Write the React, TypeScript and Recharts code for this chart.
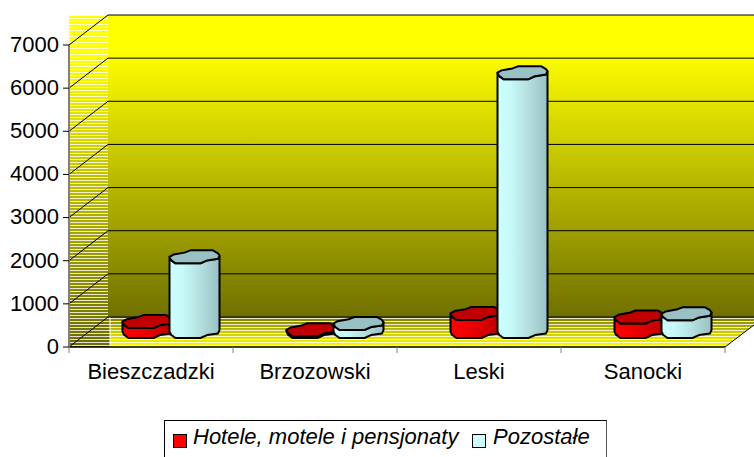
import React from 'react';
import { BarChart, Bar, XAxis, YAxis, Legend, ReferenceArea } from 'recharts';

const categories = ['Bieszczadzki', 'Brzozowski', 'Leski', 'Sanocki'];
const hotele = [230, 40, 420, 335];
const pozostale = [1730, 185, 6000, 410];
const yTicks = [0, 1000, 2000, 3000, 4000, 5000, 6000, 7000];
const seriesNames = ['Hotele, motele i pensjonaty', 'Pozostałe'];
const seriesColors = ['#ff0000', '#ccffff'];

const tableRows = categories.map((c, i) => ({ name: c, hotele: hotele[i], pozostale: pozostale[i] }));

const FONT = '"Liberation Sans", Arial, sans-serif';
const DEPTH_X = 39;
const DEPTH_Y = 30;

const Walls = (props: any) => {
  const { x, y, width, height } = props;
  const bottom = y + height;
  const backX = x + DEPTH_X;
  const backBottom = bottom - DEPTH_Y;
  const right = x + width;
  const floor = `M${backX + 2},${backBottom}H754V${backBottom + 8}L${right},${bottom}H${backX + 2}Z`;
  return (
    <g>
      <defs>
        <linearGradient id="backGrad" x1="0" y1="0" x2="0" y2="1">
          <stop offset="0" stopColor="#ffff00" />
          <stop offset="0.12" stopColor="#ffff00" />
          <stop offset="1" stopColor="#707000" />
        </linearGradient>
        <linearGradient id="sideGrad" x1="0" y1="0" x2="0" y2="1">
          <stop offset="0" stopColor="#ffff00" />
          <stop offset="0.12" stopColor="#ffff00" />
          <stop offset="1" stopColor="#6b6b00" />
        </linearGradient>
        <linearGradient id="floorGrad" x1="0" y1="0" x2="0" y2="1">
          <stop offset="0" stopColor="#7a7a00" />
          <stop offset="0.5" stopColor="#c8c800" />
          <stop offset="1" stopColor="#ffff00" />
        </linearGradient>
        <pattern id="hatch" patternUnits="userSpaceOnUse" width="6" height="3">
          <rect x="0" y="0" width="6" height="1" fill="#ffffff" fillOpacity="0.8" />
        </pattern>
      </defs>
      <rect x={x} y={y - DEPTH_Y + 1} width={DEPTH_X + 2} height={height + DEPTH_Y - 1} fill="url(#sideGrad)" />
      <rect x={x} y={y - DEPTH_Y + 1} width={DEPTH_X + 2} height={height + DEPTH_Y - 1} fill="url(#hatch)" />
      <rect x={backX} y={y - DEPTH_Y} width={754 - backX} height={height} fill="url(#backGrad)" />
      <path d={floor} fill="url(#floorGrad)" />
      <path d={floor} fill="url(#hatch)" />
      <line x1={backX + 2} x2={backX + 2} y1={backBottom} y2={bottom} stroke="#ffffff" strokeWidth={1} />
      {yTicks.map((t) => {
        const fy = bottom - (t / 7000) * height;
        const by = fy - DEPTH_Y;
        return (
          <g key={t} stroke="#000000" strokeWidth={1}>
            <line x1={x} y1={fy} x2={backX} y2={by} />
            <line x1={backX} y1={by} x2={754} y2={by} />
          </g>
        );
      })}
      <line x1={right} y1={bottom} x2={754} y2={backBottom + 8} stroke="#000000" />
      <line x1={x} y1={bottom} x2={right} y2={bottom} stroke="#000000" strokeWidth={1.5} />
      {[0, 1, 2, 3, 4].map((i) => (
        <line key={i} x1={x + (i * width) / 4} x2={x + (i * width) / 4} y1={bottom} y2={bottom + 6} stroke="#808080" />
      ))}
    </g>
  );
};

const RIM_FRONT: [number, number][] = [[0, 0], [0.03, 0.5], [0.12, 1], [0.62, 1], [0.75, 0.55], [0.97, 0.3], [1, -0.2]];
const RIM_BACK: [number, number][] = [[0.97, -0.55], [0.87, -1], [0.42, -1], [0.3, -0.65], [0.08, -0.35]];

const makeCylinder = (gradId: string, topFill: string) => (props: any) => {
  const { x, y, width, height } = props;
  const shiftX = 19.5;
  const baseY = y + height - 15.5;
  const topY = baseY - height;
  const half = 6.5;
  const px = (u: number) => x + shiftX + u * width;
  const front = (cy: number) => RIM_FRONT.map(([u, v]) => `${px(u)},${cy + v * half}`);
  const back = RIM_BACK.map(([u, v]) => `${px(u)},${topY + v * half}`);
  const body = [...front(topY), ...front(baseY).reverse()].join(' ');
  const top = [...front(topY), ...back].join(' ');
  return (
    <g stroke="#000000" strokeWidth={2} strokeLinejoin="round">
      <polygon points={body} fill={`url(#${gradId})`} />
      <polygon points={top} fill={topFill} />
    </g>
  );
};

const RedShape = makeCylinder('redBody', '#c00000');
const BlueShape = makeCylinder('blueBody', '#99c0c4');

const LegendBox = (props: any) => {
  const items = props.payload || [];
  return (
    <div
      style={{
        boxSizing: 'border-box',
        width: 443,
        height: 40,
        border: '1px solid #000',
        borderRightColor: '#555',
        background: '#fff',
        fontFamily: FONT,
        fontStyle: 'italic',
        fontSize: 22,
        color: '#000',
        position: 'relative',
      }}
    >
      {items.map((it: any, i: number) => (
        <React.Fragment key={it.value}>
          <span
            style={{
              position: 'absolute',
              left: i === 0 ? 8 : 307,
              top: 13,
              width: 14,
              height: 14,
              boxSizing: 'border-box',
              border: '1.5px solid #000',
              background: it.color,
            }}
          />
          <span style={{ position: 'absolute', left: i === 0 ? 28 : 328, top: 3, whiteSpace: 'nowrap' }}>{it.value}</span>
        </React.Fragment>
      ))}
    </div>
  );
};

export default function App() {
  return (
    <div style={{ position: 'absolute', left: 0, top: 0, width: 754, height: 457, overflow: 'hidden', background: '#fff' }}>
      <BarChart
        width={754}
        height={457}
        data={tableRows}
        margin={{ top: 45, right: 29, bottom: 0, left: 0 }}
        barSize={50}
        barGap={-3}
        barCategoryGap={0}
      >
        <defs>
          <linearGradient id="redBody" x1="0" y1="0" x2="1" y2="0">
            <stop offset="0" stopColor="#ff0000" />
            <stop offset="0.3" stopColor="#f20000" />
            <stop offset="0.6" stopColor="#dd0000" />
            <stop offset="1" stopColor="#bb0000" />
          </linearGradient>
          <linearGradient id="blueBody" x1="0" y1="0" x2="1" y2="0">
            <stop offset="0" stopColor="#ccffff" />
            <stop offset="0.25" stopColor="#c8fafa" />
            <stop offset="0.6" stopColor="#b5e0e0" />
            <stop offset="1" stopColor="#99c0c4" />
          </linearGradient>
        </defs>
        <XAxis
          dataKey="name"
          height={110}
          interval={0}
          tickLine={false}
          axisLine={false}
          tickSize={6}
          tickMargin={10}
          tick={{ fontFamily: FONT, fontSize: 22, fill: '#000' }}
        />
        <YAxis
          width={69}
          domain={[0, 7000]}
          ticks={yTicks}
          interval={0}
          tickSize={6}
          tickMargin={4}
          axisLine={{ stroke: '#808080', strokeWidth: 2 }}
          tickLine={{ stroke: '#000' }}
          tick={{ fontFamily: FONT, fontSize: 22, fill: '#000', dy: -1 }}
        />
        <ReferenceArea shape={<Walls />} ifOverflow="visible" />
        <Bar dataKey="hotele" name={seriesNames[0]} fill={seriesColors[0]} shape={RedShape} isAnimationActive={false} />
        <Bar dataKey="pozostale" name={seriesNames[1]} fill={seriesColors[1]} shape={BlueShape} isAnimationActive={false} />
        <Legend
          layout="horizontal"
          verticalAlign="middle"
          align="center"
          content={<LegendBox />}
          wrapperStyle={{ position: 'absolute', left: 164, top: 420, width: 443, height: 40, right: 'auto', bottom: 'auto' }}
        />
      </BarChart>
    </div>
  );
}
